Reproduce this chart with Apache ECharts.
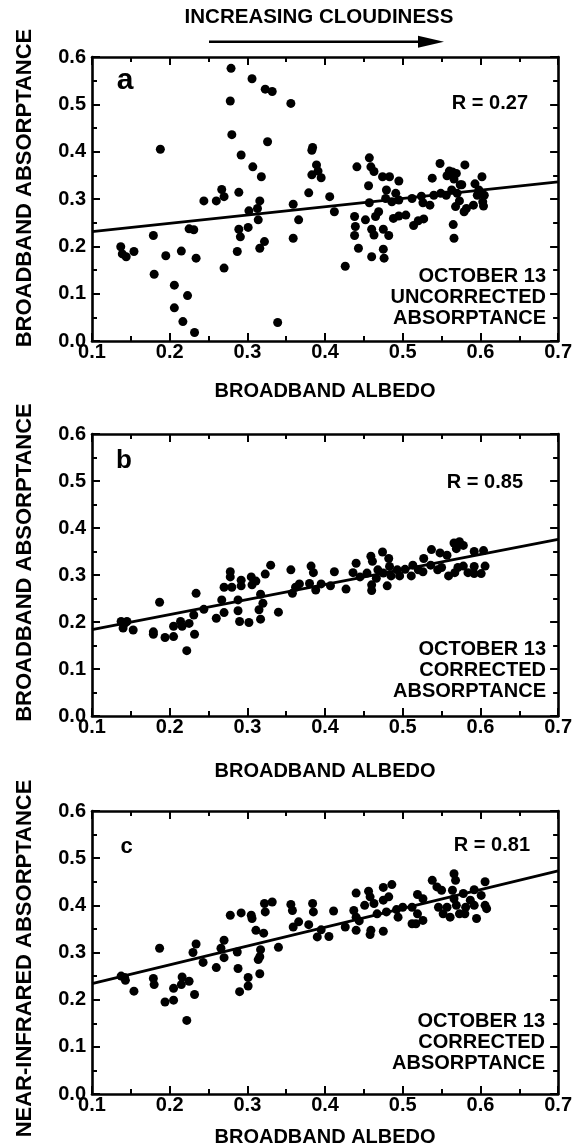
<!DOCTYPE html>
<html>
<head>
<meta charset="utf-8">
<script src="https://cdn.jsdelivr.net/npm/echarts@6/dist/echarts.min.js"></script>
<style>
html,body{margin:0;padding:0;background:#fff;}
#chart{width:575px;height:1148px;}
</style>
</head>
<body>
<div id="chart"></div>
<script>
// ---------- DATA ----------
const xTicks = [0.1, 0.2, 0.3, 0.4, 0.5, 0.6, 0.7];
const yTicks = [0.0, 0.1, 0.2, 0.3, 0.4, 0.5, 0.6];

// Panel a: broadband albedo vs uncorrected broadband absorptance
const pointsA = [
[0.188,0.405],[0.279,0.576],[0.278,0.507],[0.306,0.554],[0.323,0.532],[0.332,0.527],[0.356,0.502],
[0.280,0.436],[0.292,0.393],[0.326,0.421],[0.307,0.368],[0.318,0.347],[0.384,0.409],[0.383,0.403],
[0.389,0.372],[0.391,0.359],[0.383,0.351],[0.395,0.345],[0.441,0.368],[0.457,0.387],[0.459,0.368],
[0.463,0.358],[0.474,0.347],[0.483,0.347],[0.495,0.338],[0.456,0.328],[0.538,0.344],[0.548,0.375],
[0.560,0.359],[0.564,0.357],[0.557,0.349],[0.569,0.354],[0.580,0.372],[0.602,0.347],[0.593,0.332],
[0.574,0.330],[0.566,0.342],[0.379,0.313],
[0.137,0.199],[0.139,0.184],[0.144,0.178],[0.154,0.189],[0.179,0.223],[0.180,0.141],[0.195,0.180],
[0.206,0.118],[0.206,0.070],[0.215,0.190],[0.217,0.041],[0.223,0.096],[0.225,0.237],[0.231,0.235],
[0.232,0.018],[0.234,0.175],[0.244,0.296],[0.260,0.296],[0.267,0.320],[0.270,0.305],[0.270,0.154],
[0.289,0.314],[0.289,0.236],[0.291,0.220],[0.287,0.189],[0.301,0.240],[0.302,0.275],[0.313,0.280],
[0.316,0.296],[0.314,0.256],[0.316,0.196],[0.322,0.210],[0.339,0.039],[0.359,0.289],[0.359,0.217],
[0.366,0.256],[0.406,0.305],[0.412,0.273],[0.426,0.158],[0.438,0.263],[0.439,0.242],[0.438,0.223],
[0.443,0.196],[0.452,0.256],[0.457,0.292],[0.460,0.236],[0.460,0.178],[0.463,0.224],[0.465,0.263],
[0.469,0.273],[0.475,0.236],[0.475,0.194],[0.476,0.175],[0.479,0.319],[0.482,0.223],[0.478,0.301],
[0.486,0.294],[0.491,0.312],[0.495,0.298],[0.488,0.259],[0.495,0.264],[0.504,0.266],[0.512,0.301],
[0.514,0.244],[0.520,0.254],[0.524,0.306],[0.527,0.258],[0.526,0.292],[0.535,0.287],[0.540,0.308],
[0.549,0.312],[0.556,0.308],[0.563,0.319],[0.570,0.312],[0.565,0.246],[0.566,0.217],[0.568,0.284],
[0.573,0.296],[0.576,0.330],[0.579,0.273],[0.582,0.280],[0.591,0.287],[0.596,0.308],[0.603,0.294],
[0.605,0.308],[0.604,0.285],[0.598,0.319]
];
const fitA = [[0.1,0.231],[0.7,0.336]];

// Panel b: broadband albedo vs corrected broadband absorptance
const pointsB = [
[0.566,0.368],[0.573,0.371],[0.578,0.363],[0.569,0.356],[0.537,0.354],[0.548,0.347],[0.557,0.342],
[0.474,0.349],[0.459,0.340],[0.461,0.329],[0.592,0.350],[0.604,0.352],[0.482,0.335],[0.527,0.335],
[0.513,0.321],
[0.1375,0.201],[0.142,0.197],[0.140,0.187],[0.145,0.201],[0.153,0.183],[0.179,0.179],[0.179,0.174],
[0.187,0.242],[0.194,0.167],[0.205,0.169],[0.205,0.191],[0.214,0.201],[0.216,0.191],[0.225,0.197],
[0.222,0.139],[0.232,0.174],[0.231,0.215],[0.234,0.261],[0.244,0.227],[0.260,0.208],[0.267,0.247],
[0.270,0.220],[0.270,0.274],[0.278,0.307],[0.278,0.296],[0.280,0.274],[0.288,0.247],[0.288,0.224],
[0.290,0.201],[0.292,0.289],[0.292,0.277],[0.302,0.199],[0.305,0.296],[0.306,0.279],[0.311,0.287],
[0.315,0.226],[0.317,0.259],[0.317,0.206],[0.320,0.240],[0.323,0.302],[0.330,0.321],[0.340,0.221],
[0.356,0.311],[0.358,0.261],[0.362,0.274],[0.367,0.281],[0.380,0.282],[0.382,0.319],[0.385,0.305],
[0.388,0.268],[0.395,0.281],[0.407,0.277],[0.412,0.307],[0.427,0.270],[0.436,0.305],[0.440,0.325],
[0.445,0.296],[0.454,0.304],[0.460,0.279],[0.460,0.267],[0.466,0.293],[0.468,0.311],[0.475,0.304],
[0.480,0.277],[0.483,0.318],[0.485,0.298],[0.493,0.311],[0.496,0.298],[0.503,0.312],[0.511,0.298],
[0.520,0.311],[0.526,0.307],[0.536,0.321],[0.545,0.311],[0.550,0.316],[0.559,0.298],[0.567,0.305],
[0.571,0.316],[0.578,0.319],[0.584,0.305],[0.592,0.303],[0.592,0.318],[0.601,0.303],[0.606,0.319]
];
const fitB = [[0.1,0.184],[0.7,0.376]];

// Panel c: broadband albedo vs near-infrared absorptance
const pointsC = [
[0.566,0.467],[0.568,0.453],[0.606,0.450],[0.538,0.453],[0.544,0.439],[0.550,0.432],[0.486,0.444],
[0.475,0.438],[0.456,0.430],[0.440,0.426],[0.519,0.423],[0.526,0.414],[0.482,0.418],[0.475,0.411],
[0.458,0.418],[0.463,0.404],[0.451,0.400],[0.564,0.432],[0.566,0.414],[0.578,0.425],[0.592,0.433],
[0.601,0.421],[0.587,0.411],[0.546,0.396],[0.557,0.396],[0.569,0.400],[0.581,0.396],[0.592,0.400],
[0.606,0.400],[0.552,0.382],[0.561,0.375],[0.573,0.382],[0.580,0.382],[0.595,0.372],[0.608,0.393],
[0.512,0.396],[0.500,0.396],[0.492,0.391],[0.519,0.382],[0.526,0.368],[0.512,0.361],[0.517,0.361],
[0.494,0.375],[0.479,0.386],[0.467,0.382],[0.437,0.389],[0.440,0.375],[0.444,0.367],[0.426,0.354],
[0.440,0.347],[0.459,0.347],[0.458,0.338],[0.475,0.345],[0.411,0.388],[0.384,0.404],[0.385,0.386],
[0.379,0.359],[0.390,0.333],[0.395,0.348],[0.405,0.334],[0.356,0.402],[0.358,0.389],[0.359,0.354],
[0.366,0.365],[0.332,0.407],[0.323,0.386],[0.322,0.404],[0.311,0.347],[0.321,0.341],[0.305,0.379],
[0.306,0.372],[0.292,0.384],[0.278,0.379],[0.270,0.326],[0.317,0.306],[0.340,0.311],
[0.1375,0.250],[0.143,0.241],[0.142,0.247],[0.154,0.218],[0.179,0.245],[0.180,0.232],[0.187,0.309],
[0.194,0.195],[0.205,0.199],[0.205,0.224],[0.215,0.232],[0.216,0.248],[0.222,0.156],[0.225,0.239],
[0.232,0.211],[0.230,0.300],[0.234,0.318],[0.243,0.279],[0.260,0.268],[0.266,0.309],[0.270,0.289],
[0.287,0.301],[0.288,0.266],[0.290,0.217],[0.301,0.247],[0.301,0.229],[0.314,0.285],[0.316,0.255],
[0.316,0.291]
];
const fitC = [[0.1,0.234],[0.7,0.473]];

const panelLetters = ['a', 'b', 'c'];
const rLabels = ['R = 0.27', 'R = 0.85', 'R = 0.81'];
const noteLabels = ['OCTOBER 13\nUNCORRECTED\nABSORPTANCE', 'OCTOBER 13\nCORRECTED\nABSORPTANCE', 'OCTOBER 13\nCORRECTED\nABSORPTANCE'];
const xTitles = ['BROADBAND ALBEDO', 'BROADBAND ALBEDO', 'BROADBAND ALBEDO'];
const yTitles = ['BROADBAND ABSORPTANCE', 'BROADBAND ABSORPTANCE', 'NEAR-INFRARED ABSORPTANCE'];
const topNote = 'INCREASING CLOUDINESS';

// ---------- LAYOUT ----------
const FAM = '"Liberation Sans", Arial, Helvetica, sans-serif';
const grids = [
  {left: 92, top: 57, width: 470, height: 284},
  {left: 92, top: 434, width: 470, height: 282},
  {left: 92, top: 811, width: 470, height: 283}
];
const xNameGap = [40, 45, 33];
const yNamePad = [[0,0,0,22],[0,0,0,25],[0,12,0,0]];
const allPoints = [pointsA, pointsB, pointsC];
const allFits = [fitA, fitB, fitC];

const lineCol = '#000';
function baseAxis(extra) {
  return Object.assign({
    type: 'value',
    axisLine: {show: true, onZero: false, lineStyle: {color: lineCol, width: 2.6}},
    axisTick: {show: true, inside: true, length: 8, lineStyle: {color: lineCol, width: 2}},
    minorTick: {show: true, splitNumber: 2, length: 5, lineStyle: {color: lineCol, width: 2}},
    splitLine: {show: false},
    minorSplitLine: {show: false}
  }, extra);
}
const xAxes = [], yAxes = [], series = [];
grids.forEach((g, i) => {
  const xr = {min: xTicks[0], max: xTicks[xTicks.length-1], interval: 0.1};
  const yr = {min: yTicks[0], max: yTicks[yTicks.length-1], interval: 0.1};
  xAxes.push(baseAxis(Object.assign({
    gridIndex: i, position: 'bottom',
    axisLabel: {show: true, margin: 1, color: '#000', fontSize: 20, fontWeight: 'bold', fontFamily: FAM,
      formatter: v => v.toFixed(1)},
    name: xTitles[i], nameLocation: 'middle', nameGap: xNameGap[i],
    nameTextStyle: {color: '#000', fontSize: 20, fontWeight: 'bold', fontFamily: FAM}
  }, xr)));
  xAxes.push(baseAxis(Object.assign({gridIndex: i, position: 'top', axisLabel: {show: false}}, xr)));
  yAxes.push(baseAxis(Object.assign({
    gridIndex: i, position: 'left',
    axisLabel: {show: true, margin: 6, color: '#000', fontSize: 20, fontWeight: 'bold', fontFamily: FAM,
      formatter: v => v.toFixed(1)},
    name: yTitles[i], nameLocation: 'middle', nameGap: 56, nameRotate: 90,
    nameTextStyle: {color: '#000', fontSize: 22, fontWeight: 'bold', fontFamily: FAM, padding: yNamePad[i]}
  }, yr)));
  yAxes.push(baseAxis(Object.assign({gridIndex: i, position: 'right', axisLabel: {show: false}}, yr)));
  series.push({
    type: 'line', xAxisIndex: 2*i, yAxisIndex: 2*i, data: allFits[i],
    symbol: 'none', lineStyle: {color: '#000', width: 2.8}, z: 2, silent: true
  });
  series.push({
    type: 'scatter', xAxisIndex: 2*i, yAxisIndex: 2*i, data: allPoints[i],
    symbol: 'circle', symbolSize: 9, itemStyle: {color: '#000', opacity: 1}, z: 3
  });
});

const letterPos = [{x: 125, y: 81, s: 30}, {x: 124, y: 461, s: 26}, {x: 126.5, y: 846.5, s: 22}];
const rPos = [{x: 528, y: 103.5}, {x: 523, y: 482.5}, {x: 530, y: 845}];
const notePos = [{x: 546, y: 297, lh: 21}, {x: 546, y: 670.5, lh: 20.75}, {x: 545, y: 1042.5, lh: 20.75}];

const graphic = [];
grids.forEach((g, i) => {
  graphic.push({type: 'text', x: letterPos[i].x, y: letterPos[i].y, z: 10,
    style: {text: panelLetters[i], fill: '#000', font: 'bold ' + letterPos[i].s + 'px ' + FAM, align: 'center', verticalAlign: 'middle'}});
  graphic.push({type: 'text', x: rPos[i].x, y: rPos[i].y, z: 10,
    style: {text: rLabels[i], fill: '#000', font: 'bold 20px ' + FAM, align: 'right', verticalAlign: 'middle'}});
  graphic.push({type: 'text', x: notePos[i].x, y: notePos[i].y, z: 10,
    style: {text: noteLabels[i], fill: '#000', font: 'bold 20px ' + FAM, align: 'right', verticalAlign: 'middle', lineHeight: notePos[i].lh}});
});
graphic.push({type: 'text', x: 319, y: 17.5, z: 10,
  style: {text: topNote, fill: '#000', font: 'bold 20.5px ' + FAM, align: 'center', verticalAlign: 'middle'}});
graphic.push({type: 'line', z: 10, shape: {x1: 209, y1: 41.7, x2: 425, y2: 41.7}, style: {stroke: '#000', lineWidth: 2.6}});
graphic.push({type: 'polygon', z: 10, shape: {points: [[418, 35.7], [444, 41.7], [418, 47.7]]}, style: {fill: '#000'}});

const chart = echarts.init(document.getElementById('chart'), null, {renderer: 'canvas'});
chart.setOption({
  backgroundColor: '#fff',
  animation: false,
  grid: grids,
  xAxis: xAxes,
  yAxis: yAxes,
  series: series,
  graphic: graphic
});
</script>
</body>
</html>
